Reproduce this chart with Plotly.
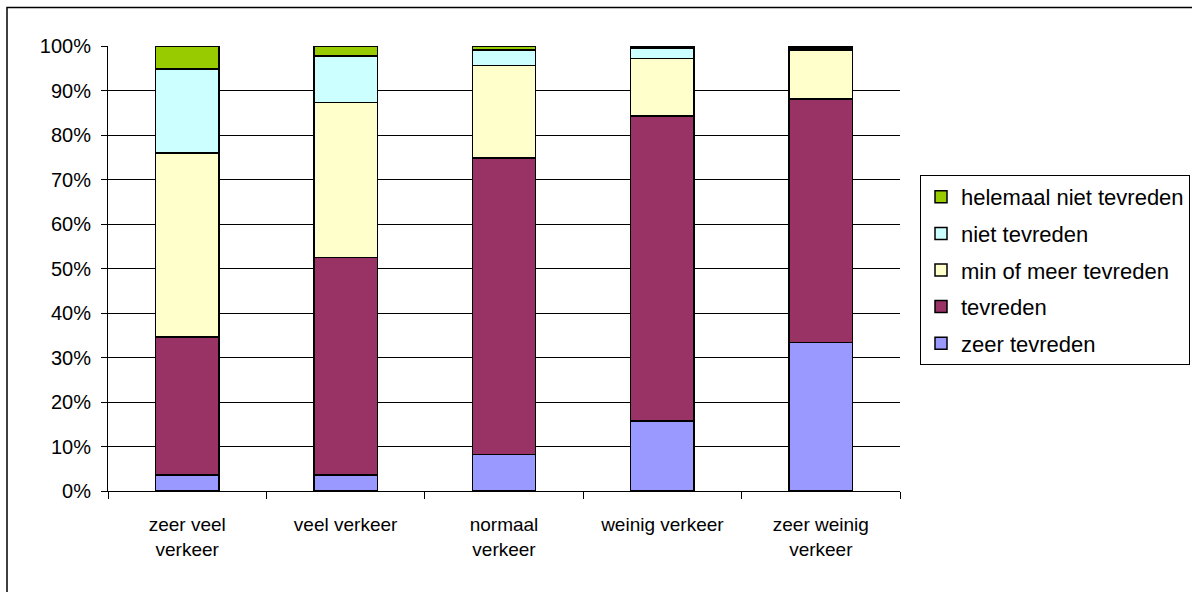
import plotly.graph_objects as go

categories = ["zeer veel<br>verkeer", "veel verkeer", "normaal<br>verkeer",
              "weinig verkeer", "zeer weinig<br>verkeer"]

zeer_tevreden = [3.6, 3.6, 8.2, 15.7, 33.4]
tevreden = [31.0, 48.9, 66.6, 68.6, 54.7]
min_of_meer_tevreden = [41.4, 34.8, 20.8, 12.9, 11.0]
niet_tevreden = [18.8, 10.4, 3.5, 2.3, 0.5]
helemaal_niet_tevreden = [5.2, 2.3, 0.9, 0.5, 0.4]

y_ticks = [0, 10, 20, 30, 40, 50, 60, 70, 80, 90, 100]
y_tick_labels = ["0%", "10%", "20%", "30%", "40%", "50%", "60%", "70%", "80%", "90%", "100%"]

series = [
    ("zeer tevreden", zeer_tevreden, "#9999FF"),
    ("tevreden", tevreden, "#993366"),
    ("min of meer tevreden", min_of_meer_tevreden, "#FFFFCC"),
    ("niet tevreden", niet_tevreden, "#CCFFFF"),
    ("helemaal niet tevreden", helemaal_niet_tevreden, "#99CC00"),
]

W, H = 1192, 592
L, R, T, B = 108, 292, 46, 101
pw, ph = W - L - R, H - T - B

FAMILY = "Liberation Sans, Arial, sans-serif"

fig = go.Figure()
for i, (name, vals, color) in enumerate(series):
    fig.add_trace(go.Bar(
        x=categories, y=vals, name=name, legendgroup=name,
        legendrank=1000 - i,
        marker=dict(color=color, line=dict(color="#000000", width=1.5)),
    ))

fig.update_layout(
    width=W, height=H,
    margin=dict(l=L, r=R, t=T, b=B, autoexpand=False),
    barmode="stack", bargap=0.6,
    plot_bgcolor="#FFFFFF", paper_bgcolor="#FFFFFF",
    font=dict(family=FAMILY, size=19, color="#000000"),
    showlegend=True,
    legend=dict(
        xref="container", x=920 / W, xanchor="left",
        yref="container", y=1 - 175 / H, yanchor="top",
        bordercolor="#000000", borderwidth=1, bgcolor="#FFFFFF",
        traceorder="grouped", tracegroupgap=5,
        font=dict(family=FAMILY, size=22, color="#000000"),
        itemwidth=30,
    ),
    xaxis=dict(
        showline=True, linecolor="#000000", linewidth=1,
        ticks="outside", ticklen=7, tickcolor="#000000",
        tickson="boundaries", showgrid=False,
        tickfont=dict(family=FAMILY, size=19, color="#000000"),
        ticklabelstandoff=16,
    ),
    yaxis=dict(
        range=[0, 100], tickvals=y_ticks, ticktext=y_tick_labels,
        showline=True, linecolor="#000000", linewidth=1,
        ticks="outside", ticklen=6, tickcolor="#000000",
        showgrid=True, gridcolor="#000000", gridwidth=1,
        tickfont=dict(family=FAMILY, size=20, color="#000000"),
        zeroline=False, ticklabelstandoff=6,
    ),
    shapes=[dict(
        type="rect", xref="paper", yref="paper",
        x0=(7 - L) / pw, x1=(W + 20 - L) / pw,
        y0=-(B + 20) / ph, y1=(H - B - 7.5) / ph,
        line=dict(color="#000000", width=1.5), fillcolor="rgba(0,0,0,0)",
        layer="below",
    )],
)

fig.write_html("out.html")
